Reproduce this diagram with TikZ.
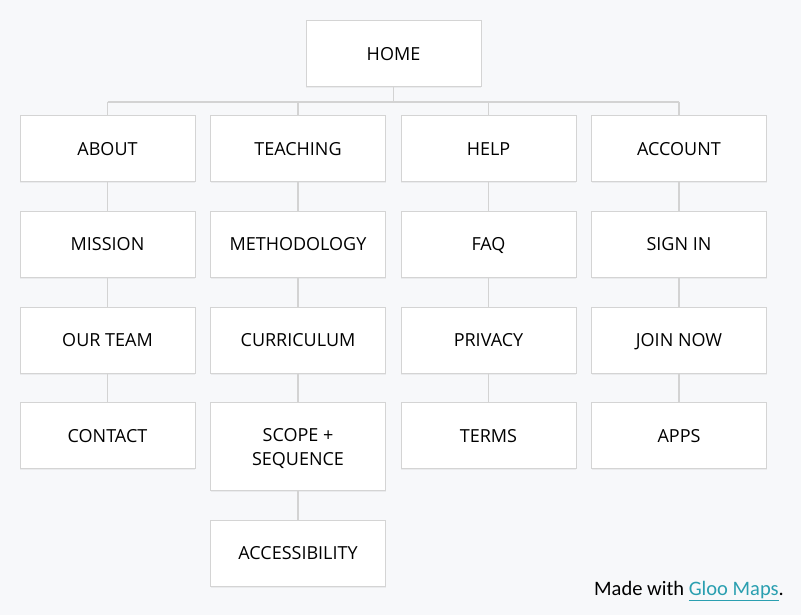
\documentclass[tikz,border=0pt]{standalone}
\usepackage{fontspec}
\setmainfont{Open Sans}
\newfontfamily\footfont{Carlito}
\usetikzlibrary{positioning,shadows}
\definecolor{pagebg}{HTML}{F7F8FA}
\definecolor{boxline}{HTML}{D4D4D4}
\definecolor{wirecol}{HTML}{D3D3D3}
\definecolor{linkteal}{HTML}{2A9FB0}
\tikzset{
  pagebox/.style={draw=boxline, line width=1pt, fill=white,
    minimum width=175pt, minimum height=66pt, align=center,
    text height=13pt, text depth=0pt,
    font=\fontsize{18}{24}\selectfont, text=black,
    drop shadow={shadow xshift=0pt, shadow yshift=-1.5pt, opacity=0.10}},
  wire/.style={draw=wirecol, line width=1.5pt}
}
\begin{document}
\begin{tikzpicture}[x=1pt, y=-1pt, node distance=28.5pt]
  \fill[pagebg] (0,0) rectangle (801,615);
  % top level
  \node (home) [pagebox] at (393.5,54) {HOME};
  \node (about)    [pagebox] at (107.5,149) {ABOUT};
  \node (teaching) [pagebox, right=14.5pt of about] {TEACHING};
  \node (help)     [pagebox, right=14.5pt of teaching] {HELP};
  \node (account)  [pagebox, right=14.5pt of help] {ACCOUNT};
  % about column
  \node (mission)  [pagebox, below=of about] {MISSION};
  \node (ourteam)  [pagebox, below=of mission] {OUR TEAM};
  \node (contact)  [pagebox, below=of ourteam] {CONTACT};
  % teaching column
  \node (method)   [pagebox, below=of teaching] {METHODOLOGY};
  \node (curric)   [pagebox, below=of method] {CURRICULUM};
  \node (scope)    [pagebox, below=of curric, minimum height=88pt,
                    text height=] {SCOPE +\\SEQUENCE};
  \node (access)   [pagebox, below=of scope] {ACCESSIBILITY};
  % help column
  \node (faq)      [pagebox, below=of help] {FAQ};
  \node (privacy)  [pagebox, below=of faq] {PRIVACY};
  \node (terms)    [pagebox, below=of privacy] {TERMS};
  % account column
  \node (signin)   [pagebox, below=of account] {SIGN IN};
  \node (joinnow)  [pagebox, below=of signin] {JOIN NOW};
  \node (apps)     [pagebox, below=of joinnow] {APPS};
  % connectors
  \coordinate (bus) at (393.5,102);
  \draw[wire] (home) -- (bus);
  \draw[wire] (about.north |- bus) -- (account.north |- bus);
  \foreach \n in {about,teaching,help,account}
    \draw[wire] (\n.north |- bus) -- (\n.north);
  \foreach \a/\b in {about/mission, mission/ourteam, ourteam/contact,
                     teaching/method, method/curric, curric/scope, scope/access,
                     help/faq, faq/privacy, privacy/terms,
                     account/signin, signin/joinnow, joinnow/apps}
    \draw[wire] (\a) -- (\b);
  \node (credit) [anchor=base west, inner sep=0pt,
                  font=\footfont\fontsize{20.5}{24}\selectfont]
    at (594,595) {Made with \textcolor{linkteal}{\underline{Gloo Maps}}.};
\end{tikzpicture}
\end{document}
